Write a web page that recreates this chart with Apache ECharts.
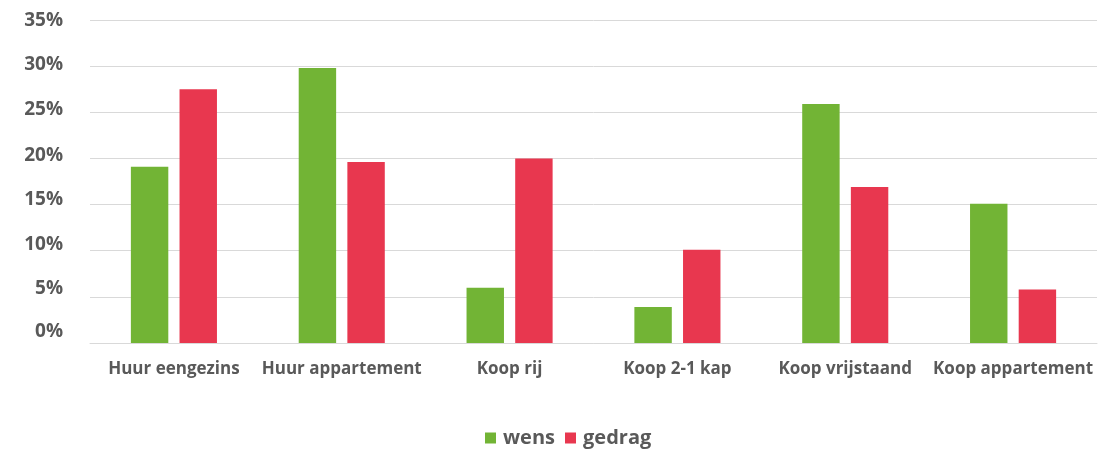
<!DOCTYPE html>
<html>
<head>
<meta charset="utf-8">
<script src="https://cdn.jsdelivr.net/npm/echarts@6/dist/echarts.min.js"></script>
<style>
  html, body { margin: 0; padding: 0; background: #fff; }
  #chart { width: 1100px; height: 454px; }
</style>
</head>
<body>
<div id="chart"></div>
<script>
// Housing type categories
const categories = ['Huur eengezins', 'Huur appartement', 'Koop rij', 'Koop 2-1 kap', 'Koop vrijstaand', 'Koop appartement'];
// Share per housing type (%): preference vs. actual behaviour
const wens = [19.1, 29.8, 6.0, 3.9, 25.9, 15.1];
const gedrag = [27.5, 19.6, 20.0, 10.1, 16.9, 5.8];
// Y-axis range and step (%)
const yMin = 0, yMax = 35, yStep = 5;

const fontFamily = '"Open Sans", "Noto Sans", sans-serif';
const textColor = '#595959';
const gridColor = '#d9d9d9';

// Tick labels sit a little above their grid lines, more so towards the bottom
const labelLift = { 0: 11, 5: 8, 10: 6, 15: 5, 20: 3, 25: 3, 30: 2, 35: -1 };
const rich = {};
Object.keys(labelLift).forEach(k => {
  const d = labelLift[k];
  rich['t' + k] = {
    color: textColor, fontSize: 19, fontWeight: 'bold', fontFamily: fontFamily,
    padding: d >= 0 ? [0, 0, 2 * d, 0] : [-2 * d, 0, 0, 0]
  };
});

const chart = echarts.init(document.getElementById('chart'));
chart.setOption({
  animation: false,
  grid: { left: 90, right: 3, top: 20, bottom: 111, containLabel: false },
  legend: {
    top: 428,
    left: 485,
    padding: 0,
    itemWidth: 11,
    itemHeight: 11,
    itemGap: 10,
    icon: 'rect',
    textStyle: { color: textColor, fontSize: 20, fontWeight: 'bold', fontFamily: fontFamily, padding: [0, 0, 0, 2] },
    data: ['wens', 'gedrag']
  },
  xAxis: {
    type: 'category',
    data: categories,
    axisLine: { lineStyle: { color: gridColor, width: 1 } },
    axisTick: { show: false },
    axisLabel: { color: textColor, fontSize: 17, fontWeight: 'bold', fontFamily: fontFamily, margin: 18, interval: 0 }
  },
  yAxis: {
    type: 'value',
    min: yMin,
    max: yMax,
    interval: yStep,
    axisLine: { show: false },
    axisTick: { show: false },
    splitLine: { lineStyle: { color: gridColor, width: 1 } },
    axisLabel: {
      margin: 27,
      formatter: v => '{t' + v + '|' + v + '%}',
      rich: rich
    }
  },
  series: [
    {
      name: 'wens', type: 'bar', data: wens,
      itemStyle: { color: '#72b435' },
      barWidth: '22.3%', barGap: '30%'
    },
    {
      name: 'gedrag', type: 'bar', data: gedrag,
      itemStyle: { color: '#e8374f' },
      barWidth: '22.3%', barGap: '30%'
    }
  ]
});
</script>
</body>
</html>
